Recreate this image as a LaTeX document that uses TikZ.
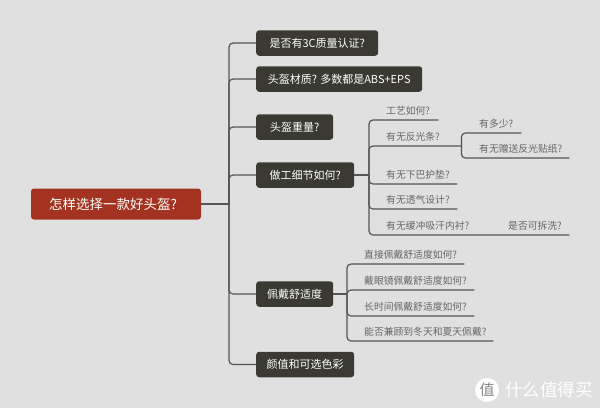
\documentclass[tikz,border=0pt]{standalone}
\usepackage{fontspec}
\setmainfont{Noto Sans CJK SC}
\usepackage{tikz}
\usetikzlibrary{shapes,arrows,positioning,calc}
\definecolor{paper}{RGB}{224,224,224}
\definecolor{rootred}{RGB}{163,51,32}
\definecolor{slate}{RGB}{58,58,50}
\definecolor{wire}{RGB}{85,85,85}
\definecolor{ink}{RGB}{102,102,102}

\begin{document}
\begin{tikzpicture}[x=1pt, y=-1pt,
        root/.style={rectangle, fill=rootred, text=white, rounded corners=3pt, text width=134pt, minimum height=31pt, inner xsep=18pt, inner ysep=0pt, font=\fontsize{13.5}{13.5}\selectfont},
        block/.style={rectangle, fill=slate, text=white, rounded corners=3pt, anchor=west, minimum height=25.5pt, inner sep=0pt, font=\fontsize{11}{11}\selectfont},
        leaf/.style={rectangle, anchor=south west, text width=#1, minimum height=18.5pt, inner sep=0pt, text=ink, font=\fontsize{9.8}{9.8}\selectfont},
        link/.style={draw=wire, line width=1.2pt, rounded corners=4pt}]

        \fill [paper] (0,0) rectangle (600,408);
        \useasboundingbox (0,0) rectangle (600,408);

        \node [root] (helmet) at (116,204) {怎样选择一款好头盔?};
        \coordinate (trunk) at (229,204);

        \node [block, minimum width=122pt] (cert) at (256,43) {是否有3C质量认证?};
        \node [block, minimum width=166pt] (material) at (256,79) {头盔材质? 多数都是ABS+EPS};
        \node [block, minimum width=77pt] (weight) at (256,127) {头盔重量?};
        \node [block, minimum width=98pt] (work) at (256,175) {做工细节如何?};
        \node [block, minimum width=77pt] (comfort) at (256,294) {佩戴舒适度};
        \node [block, minimum width=98pt] (looks) at (256,364.5) {颜值和可选色彩};

        \coordinate (workhub) at (369,175);
        \node [leaf=52pt] (craft) at (386,120) {工艺如何?};
        \node [leaf=75pt] (strip) at (386,146) {有无反光条?};
        \node [leaf=71pt] (chin) at (386,184) {有无下巴护垫?};
        \node [leaf=71pt] (vent) at (386,209) {有无透气设计?};
        \node [leaf=100pt] (liner) at (386,235) {有无缓冲吸汗内衬?};
        \node [leaf=61pt] (wash) at (508,235) {是否可拆洗?};

        \node [leaf=42pt] (amount) at (479,133) {有多少?};
        \node [leaf=90pt] (sticker) at (479,158) {有无赠送反光贴纸?};

        \coordinate (fithub) at (347,294);
        \node [leaf=100pt] (direct) at (364,264) {直接佩戴舒适度如何?};
        \node [leaf=110pt] (glasses) at (364,290) {戴眼镜佩戴舒适度如何?};
        \node [leaf=110pt] (longtime) at (364,316) {长时间佩戴舒适度如何?};
        \node [leaf=129pt] (season) at (364,341) {能否兼顾到冬天和夏天佩戴?};

        \path [link] (helmet.east) -- (trunk);
        \path [link] (trunk) |- (cert.west);
        \path [link] (trunk) |- (material.west);
        \path [link] (trunk) |- (weight.west);
        \path [link] (trunk) |- (work.west);
        \path [link] (trunk) |- (comfort.west);
        \path [link] (trunk) |- (looks.west);

        \path [link] (work.east) -- (workhub);
        \path [link] (workhub) |- (craft.south west) -- (craft.south east);
        \path [link] (workhub) |- (strip.south west) -- (strip.south east);
        \path [link] (workhub) |- (chin.south west) -- (chin.south east);
        \path [link] (workhub) |- (vent.south west) -- (vent.south east);
        \path [link] (workhub) |- (liner.south west) -- (wash.south east);
        \path [link] (strip.south east) |- (amount.south west) -- (amount.south east);
        \path [link] (strip.south east) |- (sticker.south west) -- (sticker.south east);

        \path [link] (comfort.east) -- (fithub);
        \path [link] (fithub) |- (direct.south west) -- (direct.south east);
        \path [link] (fithub) |- (glasses.south west) -- (glasses.south east);
        \path [link] (fithub) |- (longtime.south west) -- (longtime.south east);
        \path [link] (fithub) |- (season.south west) -- (season.south east);

        % watermark
        \node [circle, fill=white, minimum size=24pt, inner sep=0pt, text=paper!60!black, font=\fontsize{15}{15}\selectfont] (badge) at (487,390) {值};
        \node [right=6pt of badge, inner sep=0pt, text=white, font=\fontsize{17.5}{17.5}\selectfont] (brand) {什么值得买};
    \end{tikzpicture}
\end{document}
